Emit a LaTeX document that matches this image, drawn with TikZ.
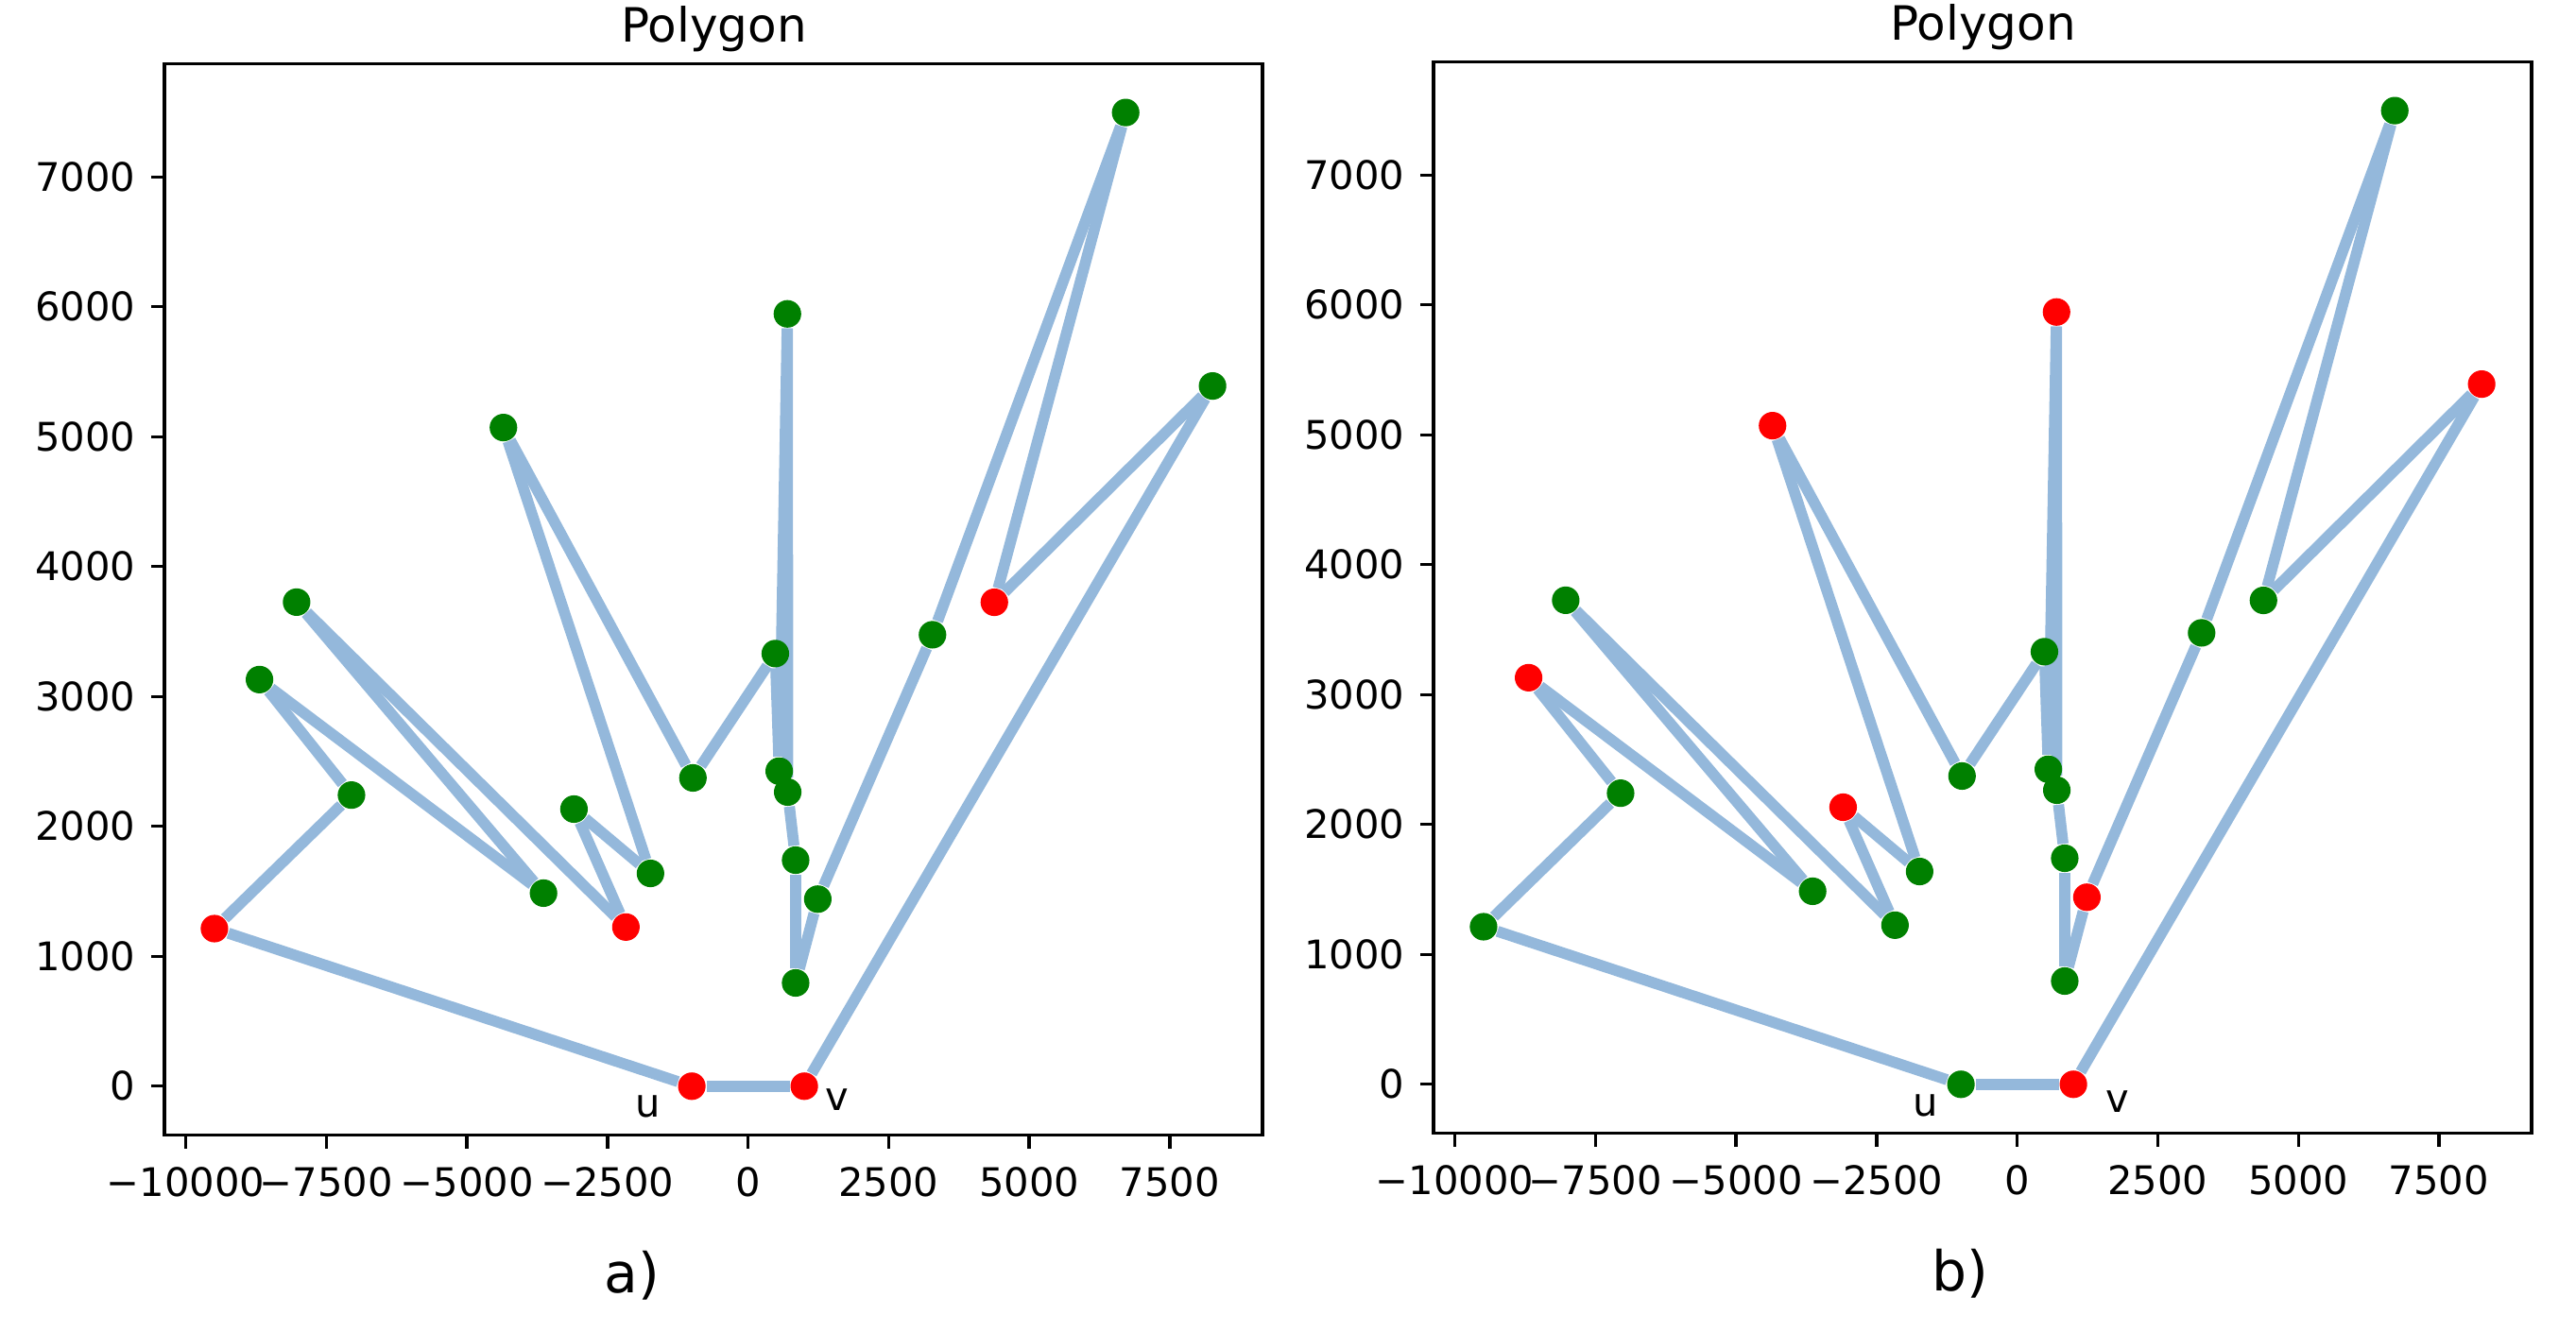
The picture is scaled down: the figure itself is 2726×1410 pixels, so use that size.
\documentclass[tikz,border=0pt]{standalone}
\usepackage{fontspec}
\setmainfont{DejaVu Sans}
\definecolor{edgeblue}{RGB}{148,184,219}
\definecolor{dotgreen}{RGB}{0,128,0}
\pgfdeclarelayer{bg}
\pgfsetlayers{bg,main}

\begin{document}
\begin{tikzpicture}[x=0.24pt, y=-0.24pt, font=\fontsize{10}{12}\selectfont,
    edge/.style={edgeblue, line width=2.8pt},
    vtx/.style={circle, inner sep=0pt, minimum size=7pt},
    spine/.style={line width=0.8pt},
    ticklab/.style={inner sep=0pt}]
  \useasboundingbox (0,0) rectangle (2726,1410);
  \foreach \p/\ox/\oy/\side/\lab/\lx/\ux/\uy/\vx/\vy in
      {a/0/0/1/a)/669/-1780/-156/1578/-105, b/1343/-2/2/b)/731/-1628/-164/1779/-135}{
    \begin{scope}[shift={(\ox,\oy)}]
      \node[anchor=base, font=\fontsize{12}{14}\selectfont] (\p title) at (755.5,45) {Polygon};
      \node[font=\fontsize{14}{17}\selectfont] (\p caption) at (\lx,1350) {\lab};
      \begin{scope}[shift={(791.6,1149.8)}, x=0.014286pt, y=0.033pt]
        % axes
        \draw[spine] (-10377,-374.75) rectangle (9147,7869.75);
        \foreach \tv/\s in {-10000/−10000, -7500/−7500, -5000/−5000, -2500/−2500,
                            0/0, 2500/2500, 5000/5000, 7500/7500}
          \draw[spine] (\tv,-374.75) -- ++(0pt,-3.5pt)
            node[ticklab, anchor=north, yshift=-4.2pt] (\p x\tv) {\s};
        \foreach \tv in {0,1000,...,7000}
          \draw[spine] (-10377,\tv) -- ++(-3.5pt,0pt)
            node[ticklab, anchor=east, xshift=-3.5pt] (\p y\tv) {\tv};
        % vertices in polygon order
        \foreach \n/\x/\y/\ca/\cb in {
            1/-1000/0/red/dotgreen, 2/1000/0/red/red,
            3/8260/5390/dotgreen/red, 4/4380/3725/red/dotgreen,
            5/6715/7495/dotgreen/dotgreen, 6/3280/3475/dotgreen/dotgreen,
            7/1240/1440/dotgreen/red, 8/846/795/dotgreen/dotgreen,
            9/846/1740/dotgreen/dotgreen, 10/705/2264/dotgreen/dotgreen,
            11/700/5945/dotgreen/red, 12/554/2425/dotgreen/dotgreen,
            13/485/3330/dotgreen/dotgreen, 14/-980/2373/dotgreen/dotgreen,
            15/-4350/5070/dotgreen/red, 16/-1735/1638/dotgreen/dotgreen,
            17/-3095/2133/dotgreen/red, 18/-2172/1225/red/dotgreen,
            19/-8028/3726/dotgreen/dotgreen, 20/-3637/1486/dotgreen/dotgreen,
            21/-8688/3130/dotgreen/red, 22/-7052/2241/dotgreen/dotgreen,
            23/-9489/1213/red/dotgreen}{
          \ifnum\side=1 \let\col\ca \else \let\col\cb \fi
          \node[vtx, fill=\col] (\p\n) at (\x,\y) {};
        }
        \begin{pgfonlayer}{bg}
          \foreach \i [remember=\i as \j (initially 23)] in {1,...,23}
            \draw[edge] (\p\j) -- (\p\i);
        \end{pgfonlayer}
        \node (\p ulab) at (\ux,\uy) {u};
        \node (\p vlab) at (\vx,\vy) {v};
      \end{scope}
    \end{scope}
  }
\end{tikzpicture}
\end{document}
